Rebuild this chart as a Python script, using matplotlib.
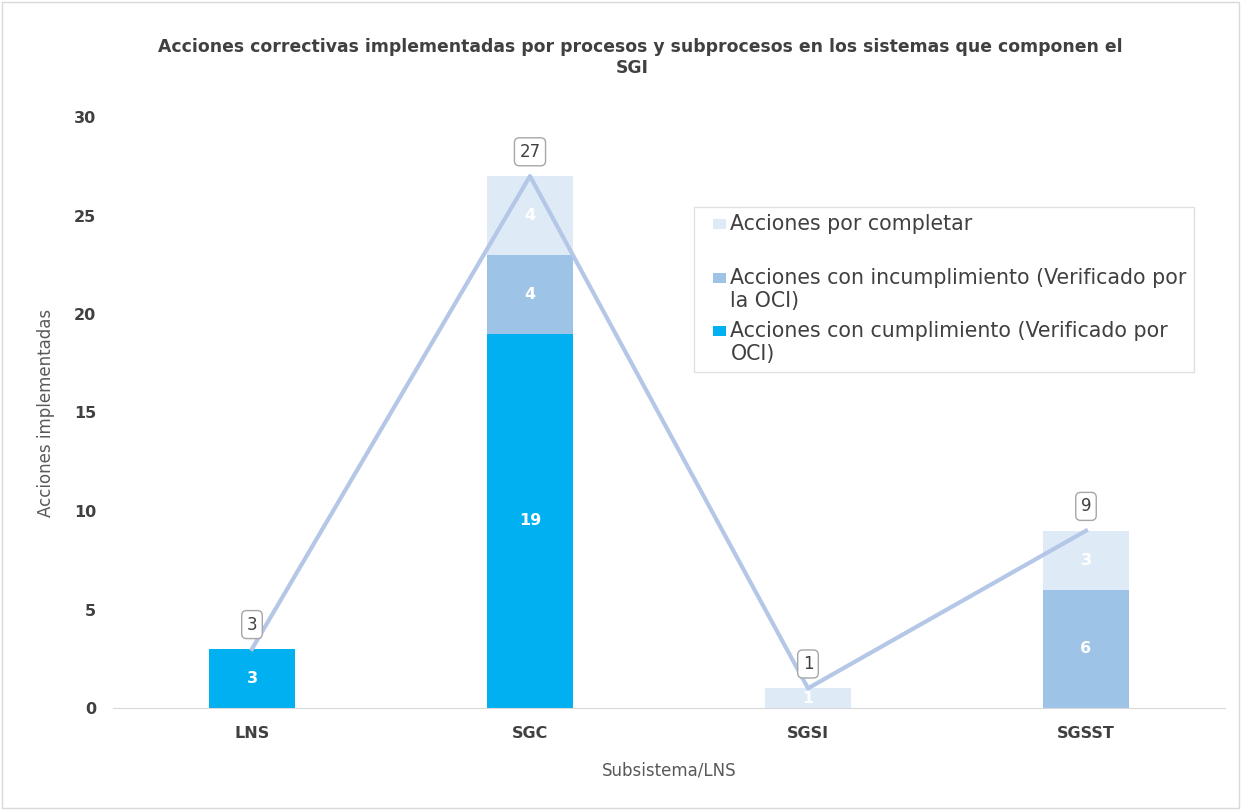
import matplotlib
matplotlib.use("Agg")
import matplotlib.pyplot as plt
from matplotlib.patches import Rectangle
from matplotlib.legend_handler import HandlerPatch
import numpy as np

categories = ["LNS", "SGC", "SGSI", "SGSST"]
cumplimiento = [3, 19, 0, 0]
incumplimiento = [0, 4, 0, 6]
por_completar = [0, 4, 1, 3]
totales = [3, 27, 1, 9]

plt.rcParams['font.family'] = ['DejaVu Sans']

fig = plt.figure(figsize=(12.41, 8.10), dpi=100)
ax = fig.add_axes([113/1241, 1 - 708/810, 1112/1241, 591/810])

x = np.arange(len(categories))
w = 0.31
c1, c2, c3 = "#00B0F0", "#9DC3E6", "#DEEBF7"
b1 = ax.bar(x, cumplimiento, w, color=c1, label="Acciones con cumplimiento (Verificado por\nOCI)", zorder=2)
bot2 = np.array(cumplimiento)
b2 = ax.bar(x, incumplimiento, w, bottom=bot2, color=c2, label="Acciones con incumplimiento (Verificado por\nla OCI)", zorder=2)
bot3 = bot2 + np.array(incumplimiento)
b3 = ax.bar(x, por_completar, w, bottom=bot3, color=c3, label="Acciones por completar\n ", zorder=2)

for vals, bots in [(cumplimiento, np.zeros(4)), (incumplimiento, bot2), (por_completar, bot3)]:
    for xi, v, b in zip(x, vals, bots):
        if v > 0:
            ax.text(xi, b + v / 2, str(v), ha="center", va="center", color="white",
                    fontsize=11.5, fontweight="bold", zorder=4)

ax.plot(x, totales, color="#B4C7E7", lw=3, zorder=3)
for xi, t in zip(x, totales):
    ax.annotate(str(t), (xi, t), xytext=(0, 17.5), textcoords="offset points", ha="center", va="center",
                fontsize=12, color="#404040",
                bbox=dict(boxstyle="round,pad=0.3,rounding_size=0.3", fc="white", ec="#A6A6A6", lw=1), zorder=5)

ax.set_xlim(-0.5, 3.5)
ax.set_ylim(0, 30)
ax.set_yticks(range(0, 31, 5))
ax.set_xticks(x)
ax.set_xticklabels(categories, fontsize=11.5, fontweight="bold", color="#404040")
for lab in ax.get_yticklabels():
    lab.set_fontsize(11.5); lab.set_fontweight("bold"); lab.set_color("#404040")
ax.tick_params(axis="both", length=0, pad=13)
ax.tick_params(axis="y", pad=12)
for s in ["top", "right", "left"]:
    ax.spines[s].set_visible(False)
ax.spines["bottom"].set_color("#D9D9D9")

ax.set_xlabel("Subsistema/LNS", fontsize=12, color="#595959", labelpad=15)
ax.set_ylabel("Acciones implementadas", fontsize=12, color="#595959", labelpad=14)

fig.text(640/1241, 1 - 47/810, "Acciones correctivas implementadas por procesos y subprocesos en los sistemas que componen el",
         ha="center", va="center", fontsize=12.4, fontweight="bold", color="#404040")
fig.text(632/1241, 1 - 68/810, "SGI", ha="center", va="center", fontsize=12.4, fontweight="bold", color="#404040")


def top_square(legend, orig_handle, xdescent, ydescent, width, height, fontsize):
    sw = 9.4
    sh = 7.0
    cy = -ydescent + height / 2 + 0.6 * fontsize
    return Rectangle((-xdescent + width - sw, cy - sh / 2), sw, sh)


containers = [b3, b2, b1]
handles = [c.patches[0] for c in containers]
labels = [c.get_label() for c in containers]
hmap = {h: HandlerPatch(patch_func=top_square) for h in handles}
leg = ax.legend(handles, labels, loc="upper left",
                bbox_to_anchor=((694 - 113) / 1112, (708 - 207) / 591), fontsize=14.8,
                frameon=True, fancybox=False, edgecolor="#D9D9D9", handlelength=1.22, handleheight=0.5,
                handletextpad=0.2, labelspacing=0.5, borderpad=0.35, borderaxespad=0, labelcolor="#404040",
                handler_map=hmap)
leg.get_frame().set_linewidth(1)

fig.patches.append(Rectangle((0.002, 0.002), 0.996, 0.996, transform=fig.transFigure,
                             fill=False, ec="#D9D9D9", lw=1))

fig.savefig("out.png", dpi=100)
